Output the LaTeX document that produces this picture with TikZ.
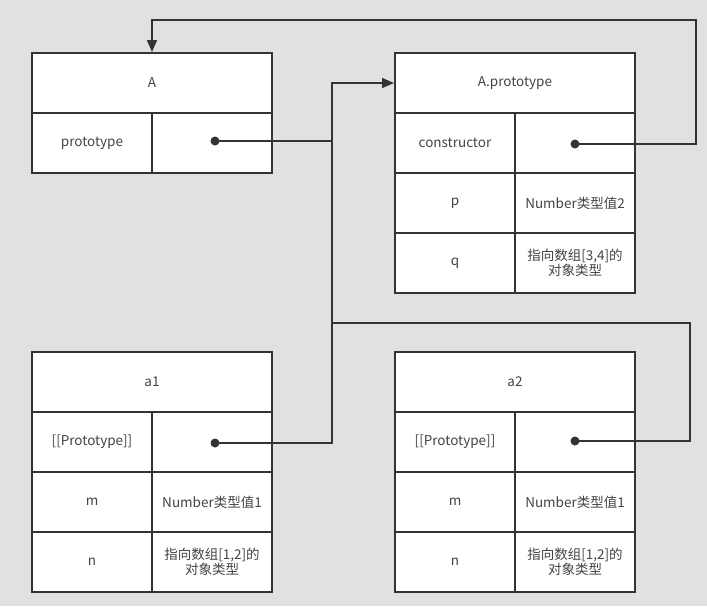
\documentclass[tikz,border=0pt]{standalone}
\usepackage{fontspec}
\setmainfont{Noto Sans CJK SC}
\usetikzlibrary{arrows.meta,positioning,calc}
\definecolor{figbg}{HTML}{E1E1E1}
\definecolor{figline}{HTML}{333333}
\definecolor{figtext}{HTML}{444444}
\tikzset{
  cell/.style={draw=figline, fill=white, line width=2pt, minimum width=120pt,
    minimum height=60pt, inner sep=0pt, align=center, text=figtext,
    font=\fontsize{13.5}{15.5}\selectfont},
  headcell/.style={cell, minimum width=240pt},
  refdot/.style={circle, fill=figline, inner sep=0pt, minimum size=9pt},
  link/.style={draw=figline, line width=1.6pt},
  tip/.style={-{Triangle[length=12pt,width=10pt]}}
}
\begin{document}
\begin{tikzpicture}[x=1pt,y=-1pt]
\fill[figbg] (0,0) rectangle (707,606);
\useasboundingbox (0,0) rectangle (707,606);

% constructor function A
\node[headcell] (Ahead) at (152,83) {A};
\node[cell] (Akey) at (92,143) {prototype};
\node[cell] (Aval) at (212,143) {};
\node[refdot] (Adot) at (215,141) {};

% A.prototype
\node[headcell] (Phead) at (515,83) {A.prototype};
\node[cell] (Pkey) at (455,143) {constructor};
\node[cell] (Pval) at (575,143) {};
\node[refdot] (Pdot) at (575,144) {};
\node[cell] (pkey) at (455,203) {p};
\node[cell] (pval) at (575,203) {Number类型值2};
\node[cell] (qkey) at (455,263) {q};
\node[cell] (qval) at (575,263) {指向数组[3,4]的\\对象类型};

% instance a1
\node[headcell] (onehead) at (152,382) {a1};
\node[cell] (onekey) at (92,442) {[[Prototype]]};
\node[cell] (oneval) at (212,442) {};
\node[refdot] (onedot) at (215,443) {};
\node[cell] (onem) at (92,502) {m};
\node[cell] (onemval) at (212,502) {Number类型值1};
\node[cell] (onen) at (92,562) {n};
\node[cell] (onenval) at (212,562) {指向数组[1,2]的\\对象类型};

% instance a2
\node[headcell] (twohead) at (515,382) {a2};
\node[cell] (twokey) at (455,442) {[[Prototype]]};
\node[cell] (twoval) at (575,442) {};
\node[refdot] (twodot) at (575,441) {};
\node[cell] (twom) at (455,502) {m};
\node[cell] (twomval) at (575,502) {Number类型值1};
\node[cell] (twon) at (455,562) {n};
\node[cell] (twonval) at (575,562) {指向数组[1,2]的\\对象类型};

% bends
\coordinate (bus) at (332,83);
\coordinate (twoturn) at (690,323);
\coordinate (ctorturn) at (696,20);

% links
\draw[link,tip] (onedot.center) -- (onedot.center -| bus) -- (bus) -- (Phead.west);
\draw[link] (Adot.center) -- (Adot.center -| bus);
\draw[link] (twodot.center) -- (twodot.center -| twoturn) -- (twoturn) -- (twoturn -| bus);
\draw[link,tip] (Pdot.center) -- (Pdot.center -| ctorturn) -- (ctorturn)
  -- (ctorturn -| Ahead.north) -- (Ahead.north);
\end{tikzpicture}
\end{document}
